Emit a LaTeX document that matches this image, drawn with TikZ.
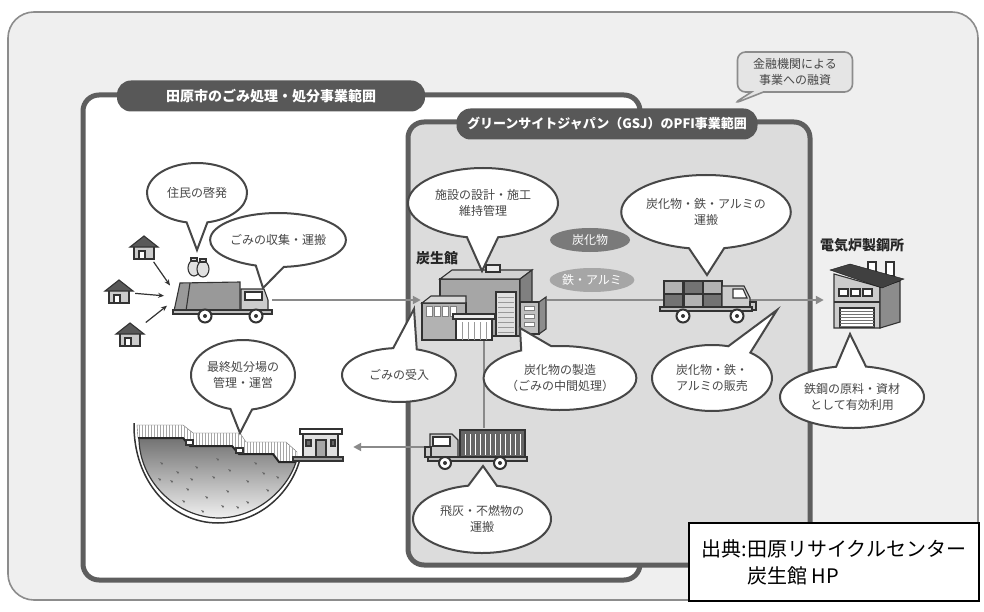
\documentclass[tikz,border=0pt]{standalone}
\usepackage{fontspec}
\setmainfont{Noto Sans CJK JP}
\usetikzlibrary{shapes.callouts,shapes.geometric,arrows.meta}
\definecolor{framegray}{HTML}{8C8C8C}
\definecolor{panelgray}{HTML}{EFEFEF}
\definecolor{zonegray}{HTML}{5E5E5E}
\definecolor{pfigray}{HTML}{DCDCDC}
\definecolor{bandgray}{HTML}{585858}
\definecolor{flowgray}{HTML}{8A8A8A}
\definecolor{inkgray}{HTML}{474747}

\begin{document}
\begin{tikzpicture}[x=1pt,y=-1pt,
  bubble/.style={ellipse callout,draw=inkgray,line width=2pt,fill=white,text=inkgray,
    font=\fontsize{12}{16}\selectfont,align=center,inner sep=0pt,callout pointer arc=24},
  chip/.style={ellipse,inner sep=0pt,text=white,font=\fontsize{12}{14}\selectfont,
    minimum width=80pt,minimum height=24pt},
  band/.style={rectangle,rounded corners=14pt,fill=bandgray,text=white,inner sep=0pt,
    minimum height=31pt},
  iconbox/.style={rectangle,inner sep=0pt},
  iconlabel/.style={font=\fontsize{14}{16}\selectfont\bfseries,text=black!85},
  flow/.style={draw=flowgray,line width=2.6pt},
  flowtip/.style={-{Triangle[length=8pt,width=8pt]}},
  outline/.style={draw=black!80,line width=1.1pt},
  wheel/.style={draw=black!80,line width=2pt,fill=white}]
\useasboundingbox (0,0) rectangle (984,612);

\draw[rounded corners=26pt,draw=framegray,line width=1.6pt,fill=panelgray] (8,12) rectangle (978,600);
\draw[rounded corners=16pt,draw=zonegray,line width=5pt,fill=white] (83,95) rectangle (640,580);
\node[band,minimum width=308pt,font=\fontsize{14}{16}\selectfont\bfseries] (cityband) at (271,96) {田原市のごみ処理・処分事業範囲};
\draw[rounded corners=16pt,draw=zonegray,line width=5pt,fill=pfigray] (408,122) rectangle (810,565);
\node[band,minimum width=301pt,font=\fontsize{13}{15}\selectfont\bfseries] (pfiband) at (607,124) {グリーンサイトジャパン（GSJ）のPFI事業範囲};
\node[rectangle callout,rounded corners=8pt,draw=framegray,line width=1.6pt,fill=black!10,
  text=inkgray,font=\fontsize{12}{16}\selectfont,align=center,inner sep=0pt,
  minimum width=115pt,minimum height=40pt,callout pointer width=12pt,
  callout absolute pointer={(733,104)}] (finance) at (795,72) {金融機関による\\事業への融資};

\node[iconbox,minimum width=100pt,minimum height=36pt] (gtruck) at (222,300) {};
\node[iconbox,minimum width=126pt,minimum height=78pt] (kiln) at (484,300) {};
\node[iconbox,minimum width=96pt,minimum height=40pt] (ftruck) at (708,300) {};
\node[iconbox,minimum width=84pt,minimum height=70pt] (mill) at (866,300) {};
\node[iconbox,minimum width=98pt,minimum height=38pt] (dtruck) at (476,447) {};
\node[iconbox,minimum width=44pt,minimum height=30pt] (office) at (321,447) {};
\coordinate (drop) at (178,297);

\draw[flow,flowtip] (gtruck.east) -- (kiln.west);
\draw[flow,flowtip] (kiln.east) -- (mill.west);
\draw[flow] (kiln.south) -- (kiln.south |- dtruck.north);
\draw[flow,flowtip,shorten >=10pt] (dtruck.west) -- (office.east);

\foreach \n/\hx/\hy in {houseA/144/248,houseB/119/292,houseC/130/335}{
  \filldraw[outline,fill=black!20] (\hx-10,\hy-2) rectangle (\hx+10,\hy+11);
  \filldraw[outline,fill=white] (\hx-5,\hy+3) rectangle (\hx+1,\hy+11);
  \filldraw[outline,fill=black!65] (\hx-14,\hy-1) -- (\hx,\hy-12) -- (\hx+14,\hy-1) -- cycle;
  \node[iconbox,minimum width=28pt,minimum height=24pt] (\n) at (\hx,\hy) {};
}
\foreach \n in {houseA,houseB,houseC}
  \draw[draw=black!80,line width=1.2pt,-{Stealth[length=6pt,width=5pt]},shorten <=2pt,shorten >=14pt] (\n) -- (drop);

\filldraw[outline,fill=black!12] (194,268) ellipse (6 and 8);
\filldraw[outline,fill=black!12] (203,269) ellipse (6 and 8);
\filldraw[outline,fill=black!12] (191,258) rectangle (197,261);
\filldraw[outline,fill=black!12] (200,259) rectangle (206,262);

\filldraw[outline,fill=black!40] (180,283) -- (240,282) -- (240,311) -- (174,311) -- cycle;
\draw[outline] (190,283) -- (186,311);
\filldraw[outline,fill=black!20] (241,289) -- (264,289) -- (268,300) -- (268,312) -- (241,312) -- cycle;
\filldraw[outline,fill=white] (245,292) rectangle (262,300);
\filldraw[outline,fill=black!25] (173,310) rectangle (272,314);
\filldraw[wheel] (205,316) circle (6.5);
\filldraw[wheel] (256,316) circle (6.5);
\fill[black!80] (205,316) circle (2) (256,316) circle (2);

\filldraw[outline,fill=black!35] (440,279) rectangle (520,336);
\filldraw[outline,fill=black!18] (440,279) -- (452,270) -- (532,270) -- (520,279) -- cycle;
\filldraw[outline,fill=black!50] (520,279) -- (532,270) -- (532,328) -- (520,336) -- cycle;
\filldraw[outline,fill=black!8] (486,265) rectangle (500,272);
\filldraw[outline,fill=black!12] (496,292) rectangle (516,336);
\foreach \ty in {297,302,...,332} \draw[black!40] (498,\ty) -- (514,\ty);
\filldraw[outline,fill=black!25] (520,302) rectangle (539,334);
\filldraw[outline,fill=black!45] (539,302) -- (546,297) -- (546,329) -- (539,334) -- cycle;
\foreach \wy in {306,314,322} \filldraw[fill=white,draw=black!50] (524,\wy) rectangle ++(10,4);
\filldraw[outline,fill=black!30] (422,303) rectangle (466,340);
\filldraw[outline,fill=black!15] (422,303) -- (431,296) -- (466,296) -- (466,303) -- cycle;
\foreach \wx in {426,434,442,450} \filldraw[fill=white,draw=black!50] (\wx,306) rectangle ++(6,10);
\filldraw[outline,fill=white] (456,318) rectangle (492,340);
\foreach \px in {462,468,...,486} \draw[black!40] (\px,322) -- (\px,340);
\filldraw[outline,fill=black!8] (453,314) rectangle (495,319);

\foreach \cx/\cy/\cs in {664/281/30,684/281/55,703/281/30,664/294/55,684/294/30,703/294/55}
  \filldraw[outline,fill=black!\cs] (\cx,\cy) rectangle ++(19,13);
\filldraw[outline,fill=black!20] (722,286) -- (744,286) -- (750,298) -- (750,310) -- (722,310) -- cycle;
\filldraw[outline,fill=white] (733,289) -- (743,289) -- (747,298) -- (733,298) -- cycle;
\filldraw[outline,fill=black!20] (750,302) rectangle (756,310);
\filldraw[outline,fill=black!25] (660,307) rectangle (752,311);
\filldraw[wheel] (683,316) circle (6.5);
\filldraw[wheel] (737,316) circle (6.5);
\fill[black!80] (683,316) circle (2) (737,316) circle (2);

\filldraw[outline,fill=white] (868,262) rectangle (876,273);
\filldraw[outline,fill=white] (886,262) rectangle (894,276);
\filldraw[outline,fill=black!20] (834,274) -- (880,287) -- (880,328) -- (834,328) -- cycle;
\filldraw[outline,fill=black!45] (880,287) -- (900,281) -- (900,322) -- (880,328) -- cycle;
\filldraw[draw=black!90,fill=black!75] (830,270) -- (850,264) -- (904,279) -- (882,288) -- cycle;
\foreach \wx in {839,851,863} \filldraw[outline,fill=white] (\wx,289) rectangle ++(9,7);
\draw[outline] (834,302) -- (880,302);
\filldraw[outline,fill=white] (840,308) rectangle (874,327);
\foreach \sy in {311,314,...,326} \draw[black!55] (840,\sy) -- (874,\sy);

\filldraw[outline,fill=black!20] (430,434) -- (452,434) -- (458,440) -- (458,458) -- (430,458) -- cycle;
\filldraw[outline,fill=white] (433,437) rectangle (450,446);
\filldraw[outline,fill=black!20] (425,447) rectangle (431,457);
\filldraw[outline,fill=black!60] (460,430) rectangle (525,458);
\foreach \dx in {465,470,...,520} \draw[white,line width=1pt] (\dx,434) -- (\dx,455);
\filldraw[outline,fill=black!25] (428,457) rectangle (527,461);
\filldraw[wheel] (445,463) circle (6);
\filldraw[wheel] (500,463) circle (6);
\fill[black!80] (445,463) circle (2) (500,463) circle (2);

\filldraw[fill=white,draw=black!60] (137,425) -- (183,425) -- (193,433) -- (240,433) -- (246,442) -- (286,442) -- (297,452)
  -- (297,462) -- (279,462) -- (273,454) -- (239,454) -- (232,446) -- (190,446) -- (183,438) -- (138,438) -- cycle;
\begin{scope}
\clip (137,425) -- (183,425) -- (193,433) -- (240,433) -- (246,442) -- (286,442) -- (297,452)
  -- (297,462) -- (279,462) -- (273,454) -- (239,454) -- (232,446) -- (190,446) -- (183,438) -- (138,438) -- cycle;
\foreach \fx in {139,142,...,297} \draw[black!35,line width=0.6pt] (\fx,420) -- (\fx,465);
\end{scope}
\shade[top color=black!55,bottom color=black!6] (138,438) -- (183,438) -- (190,446) -- (232,446) -- (239,454) -- (273,454) -- (279,462) -- (296,462)
  .. controls (288,488) and (258,518) .. (218,518) .. controls (175,517) and (139,480) .. (139,438) -- cycle;
\foreach \sx/\sy in {160/462,176/471,195/466,212/476,228/469,246/480,262/472,186/488,205/496,226/490,246/501,
  201/510,170/480,266/489,236/506,216/458,158/478,190/478,254/462,276/476,221/505,182/500}
  \fill[black!60] (\sx,\sy) -- ++(3,1) -- ++(-1,2) -- cycle;
\draw[draw=black!85,line width=2pt] (138,438) -- (183,438) -- (190,446) -- (232,446) -- (239,454) -- (273,454) -- (279,462) -- (296,462);
\filldraw[outline,fill=white] (186,440) rectangle (193,445);
\filldraw[outline,fill=white] (236,448) rectangle (243,453);
\draw[draw=black!80,line width=1.5pt] (134,423) .. controls (133,482) and (172,523) .. (218,523) .. controls (262,523) and (292,490) .. (300,459) -- (343,459);
\draw[draw=black!80,line width=1.2pt] (139,438) .. controls (139,480) and (175,517) .. (218,518) .. controls (258,518) and (288,488) .. (296,462);
\filldraw[outline,fill=black!12] (303,434) rectangle (338,457);
\filldraw[outline,fill=white] (300,429) rectangle (342,434);
\filldraw[outline,fill=black!35] (316,440) rectangle (326,457);
\filldraw[outline,fill=black!60] (306,440) rectangle (311,446);
\filldraw[outline,fill=black!60] (331,440) rectangle (335,446);
\filldraw[outline,fill=black!40] (293,457) rectangle (343,461);

\node[iconlabel] (kilnlabel) at (437,258) {炭生館};
\node[iconlabel] (milllabel) at (862,245) {電気炉製鋼所};
\node[chip,fill=black!52] (charchip) at (590,240) {炭化物};
\node[chip,fill=black!35] (metalchip) at (592,280) {鉄・アルミ};

\node[bubble,minimum width=100pt,minimum height=60pt,callout absolute pointer={(197,250)}] (awareness) at (197,193) {住民の啓発};
\node[bubble,minimum width=122pt,minimum height=54pt,callout absolute pointer={(263,288)}] (collect) at (278,240) {ごみの収集・運搬};
\node[bubble,minimum width=150pt,minimum height=70pt,callout absolute pointer={(482,271)}] (design) at (483,203) {施設の設計・施工\\維持管理};
\node[bubble,minimum width=156pt,minimum height=74pt,callout absolute pointer={(707,275)}] (haulout) at (706,212) {炭化物・鉄・アルミの\\運搬};
\node[bubble,minimum width=104pt,minimum height=70pt,callout absolute pointer={(240,433)}] (landfillops) at (243,375) {最終処分場の\\管理・運営};
\node[bubble,minimum width=114pt,minimum height=54pt,callout absolute pointer={(414,309)}] (intake) at (399,375) {ごみの受入};
\node[bubble,minimum width=126pt,minimum height=64pt,callout absolute pointer={(520,328)}] (carbonize) at (560,378) {炭化物の製造\\（ごみの中間処理）};
\node[bubble,minimum width=120pt,minimum height=66pt,callout absolute pointer={(777,310)}] (sales) at (712,378) {炭化物・鉄・\\アルミの販売};
\node[bubble,minimum width=144pt,minimum height=62pt,callout absolute pointer={(850,334)}] (reuse) at (852,397) {鉄鋼の原料・資材\\として有効利用};
\node[bubble,minimum width=138pt,minimum height=68pt,callout absolute pointer={(483,466)}] (ashhaul) at (482,519) {飛灰・不燃物の\\運搬};

\node[draw=black,line width=2pt,fill=white,inner sep=0pt,minimum width=290pt,minimum height=78pt,
  align=left,font=\fontsize{20}{27}\selectfont,anchor=north west] (source) at (688,522)
  {出典:田原リサイクルセンター\\\phantom{出典:}炭生館 HP};
\end{tikzpicture}
\end{document}
